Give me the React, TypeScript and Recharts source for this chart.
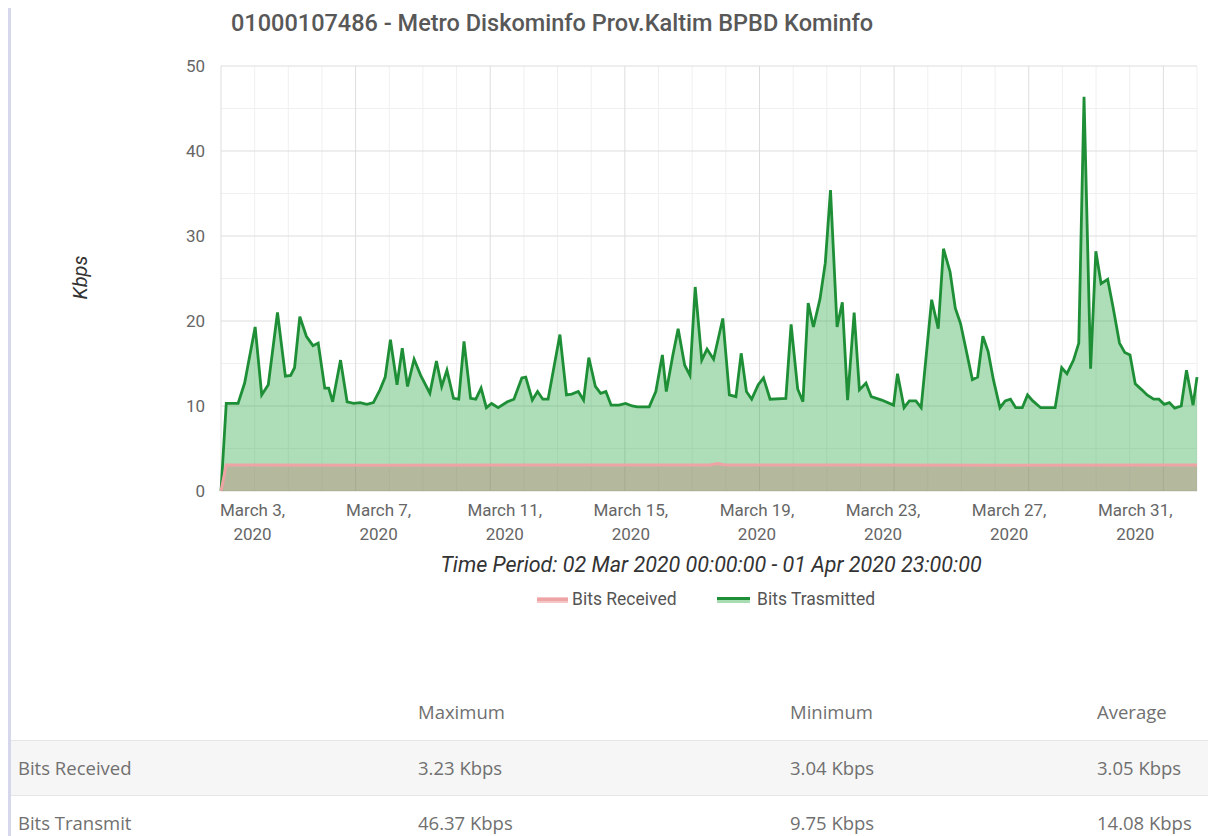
import { ComposedChart, Area, XAxis, YAxis, CartesianGrid, Label } from 'recharts'

// hours since 02 Mar 2020 00:00
const hours = [
  0, 4, 13, 18, 26, 31, 36, 43, 49, 53, 56, 60, 65, 70, 74, 79, 82, 85, 91, 96,
  101, 106, 111, 116, 121, 125, 129, 134, 138, 142, 147, 152, 159, 164, 168, 172, 177, 181, 185, 190,
  194, 198, 202, 206, 211, 218, 223, 229, 232, 237, 241, 245, 249, 258, 263, 267, 272, 276, 280, 285,
  289, 293, 297, 303, 308, 313, 317, 326, 331, 336, 339, 344, 348, 353, 357, 361, 366, 370, 375, 382,
  387, 392, 396, 400, 404, 409, 413, 418, 430, 434, 439, 443, 447, 451, 456, 460, 464, 469, 473, 477,
  482, 486, 491, 495, 503, 512, 515, 520, 524, 529, 533, 541, 546, 550, 555, 559, 563, 572, 576, 580,
  584, 588, 593, 597, 601, 605, 610, 614, 618, 624, 635, 640, 644, 649, 653, 657, 662, 666, 670, 675,
  679, 684, 688, 692, 696, 701, 705, 710, 714, 718, 722, 726, 731, 735, 740, 743,
]

const transmitted = [
  0, 10.3, 10.3, 12.7, 19.3, 11.3, 12.5, 21.0, 13.5, 13.6, 14.5, 20.5, 18.2, 17.1, 17.4, 12.1, 12.1, 10.5, 15.4, 10.5,
  10.3, 10.4, 10.2, 10.4, 11.9, 13.4, 17.8, 12.5, 16.8, 12.3, 15.5, 13.6, 11.5, 15.3, 12.3, 14.2, 10.9, 10.8, 17.6, 10.9,
  10.8, 12.1, 9.8, 10.3, 9.8, 10.5, 10.8, 13.3, 13.4, 10.7, 11.7, 10.8, 10.8, 18.4, 11.3, 11.4, 11.7, 10.7, 15.7, 12.3,
  11.5, 11.7, 10.1, 10.1, 10.3, 10.0, 9.9, 9.9, 11.7, 16.0, 11.7, 16.0, 19.1, 14.8, 13.6, 24.0, 15.4, 16.7, 15.5, 20.3,
  11.3, 11.1, 16.2, 11.7, 10.8, 12.5, 13.3, 10.8, 10.9, 19.6, 12.0, 10.5, 22.1, 19.3, 22.6, 26.8, 35.4, 19.3, 22.2, 10.7,
  21.0, 11.9, 12.7, 11.1, 10.7, 10.1, 13.8, 9.8, 10.6, 10.6, 9.8, 22.5, 19.1, 28.5, 25.8, 21.5, 19.7, 13.1, 13.4, 18.2,
  16.4, 13.1, 9.8, 10.6, 10.8, 9.8, 9.8, 11.3, 10.6, 9.8, 9.8, 14.5, 13.8, 15.4, 17.4, 46.37, 14.4, 28.2, 24.4, 24.9,
  21.7, 17.4, 16.3, 16.0, 12.6, 11.9, 11.3, 10.8, 10.8, 10.2, 10.4, 9.75, 10.0, 14.2, 10.1, 13.4,
]

const receivedHours = [0, 4, 120, 240, 360, 372, 378, 384, 480, 600, 720, 743]
const received = [0, 3.05, 3.04, 3.05, 3.05, 3.05, 3.23, 3.05, 3.05, 3.04, 3.05, 3.05]

const tickHours = [24, 120, 216, 312, 408, 504, 600, 696]
const tickDays = ['March 3,', 'March 7,', 'March 11,', 'March 15,', 'March 19,', 'March 23,', 'March 27,', 'March 31,']
const tickYear = '2020'
const yTicks = [0, 10, 20, 30, 40, 50]

const statHeaders = ['Maximum', 'Minimum', 'Average']
const statRows = [
  { name: 'Bits Received', values: ['3.23 Kbps', '3.04 Kbps', '3.05 Kbps'] },
  { name: 'Bits Transmit', values: ['46.37 Kbps', '9.75 Kbps', '14.08 Kbps'] },
]

const txData = hours.map((h, i) => ({ h, v: transmitted[i] }))
const rxData = receivedHours.map((h, i) => ({ h, v: received[i] }))

const font = 'Roboto, sans-serif'
const colX = [410, 782, 1089]

function DateTick({ x, y, payload }: any) {
  const i = tickHours.indexOf(payload.value)
  return (
    <text x={x} y={y} textAnchor="middle" fill="#666" fontSize={17} fontFamily={font}>
      <tspan x={x} dy={23}>{tickDays[i]}</tspan>
      <tspan x={x} dy={24}>{tickYear}</tspan>
    </text>
  )
}

function minorRows({ offset }: any) {
  const out: number[] = []
  for (let v = 5; v < 50; v += 10) out.push(offset.top + offset.height * (1 - v / 50))
  return out
}
function majorRows({ offset }: any) {
  return yTicks.map((v) => offset.top + offset.height * (1 - v / 50))
}
function minorCols({ offset }: any) {
  const out: number[] = []
  for (let i = 1; i <= 29; i++) if (i % 4 !== 0) out.push(offset.left + (offset.width * i) / 29)
  return out
}
function majorCols({ offset }: any) {
  const out: number[] = []
  for (let i = 0; i <= 29; i += 4) out.push(offset.left + (offset.width * i) / 29)
  return out
}

export default function App() {
  return (
    <div style={{ position: 'relative', width: 1200, height: 828, fontFamily: font }}>
      <div style={{ position: 'absolute', left: 0, top: -8, width: 3, height: 836, background: '#d6d6ec' }} />

      <div
        style={{
          position: 'absolute',
          left: 223,
          top: 1,
          fontSize: 23.5,
          lineHeight: '28px',
          fontWeight: 500,
          color: '#585858',
          whiteSpace: 'nowrap',
        }}
      >
        01000107486 - Metro Diskominfo Prov.Kaltim BPBD Kominfo
      </div>

      <div style={{ position: 'absolute', left: 0, top: 0 }}>
        <ComposedChart width={1200} height={560} margin={{ top: 58, right: 11, left: 0, bottom: 27 }}>
          <CartesianGrid
            stroke="#f0f0f0"
            horizontalCoordinatesGenerator={minorRows}
            verticalCoordinatesGenerator={minorCols}
          />
          <CartesianGrid
            stroke="#dddddd"
            horizontalCoordinatesGenerator={majorRows}
            verticalCoordinatesGenerator={majorCols}
          />
          <XAxis
            dataKey="h"
            type="number"
            domain={[0, 743]}
            ticks={tickHours}
            tick={<DateTick />}
            axisLine={false}
            tickLine={false}
            tickSize={0}
            height={50}
            allowDuplicatedCategory={false}
          />
          <YAxis
            type="number"
            domain={[0, 50]}
            ticks={yTicks}
            width={213}
            axisLine={false}
            tickLine={false}
            tickSize={0}
            tickMargin={16}
            tick={{ fill: '#666', fontSize: 17, fontFamily: font }}
          >
            <Label
              content={({ viewBox }: any) => {
                const cx = viewBox.x + 72
                const cy = viewBox.y + viewBox.height / 2 - 1
                return (
                  <text
                    x={cx}
                    y={cy}
                    transform={`rotate(-90, ${cx}, ${cy})`}
                    textAnchor="middle"
                    dominantBaseline="central"
                    fill="#333"
                    fontSize={20}
                    fontStyle="italic"
                    fontFamily={font}
                  >
                    Kbps
                  </text>
                )
              }}
            />
          </YAxis>
          <Area
            data={txData}
            dataKey="v"
            type="linear"
            stroke="#1e8f36"
            strokeWidth={2.8}
            fill="#28a745"
            fillOpacity={0.38}
            dot={false}
            activeDot={false}
            isAnimationActive={false}
          />
          <Area
            data={rxData}
            dataKey="v"
            type="linear"
            stroke="#eea4a4"
            strokeWidth={3}
            fill="#c86464"
            fillOpacity={0.3}
            dot={false}
            activeDot={false}
            isAnimationActive={false}
          />
        </ComposedChart>
      </div>

      <div
        style={{
          position: 'absolute',
          left: 303,
          top: 543,
          width: 800,
          textAlign: 'center',
          fontSize: 21.5,
          lineHeight: '28px',
          fontStyle: 'italic',
          color: '#333',
        }}
      >
        Time Period: 02 Mar 2020 00:00:00 - 01 Apr 2020 23:00:00
      </div>

      <svg width={31} height={10} style={{ position: 'absolute', left: 529, top: 587 }}>
        <rect x={0} y={2} width={31} height={6} fill="#f5c6c6" />
        <rect x={0} y={3} width={31} height={3} fill="#eea4a4" />
      </svg>
      <div style={{ position: 'absolute', left: 564, top: 579, fontSize: 17.5, lineHeight: '24px', color: '#555', whiteSpace: 'nowrap' }}>
        Bits Received
      </div>
      <svg width={33} height={10} style={{ position: 'absolute', left: 709, top: 587 }}>
        <rect x={0} y={2} width={33} height={6} fill="#a8dcb2" />
        <rect x={0} y={2} width={33} height={3} fill="#1e8f36" />
      </svg>
      <div style={{ position: 'absolute', left: 749, top: 579, fontSize: 17.5, lineHeight: '24px', color: '#555', whiteSpace: 'nowrap' }}>
        Bits Trasmitted
      </div>

      <div
        style={{
          position: 'absolute',
          left: 3,
          top: 0,
          width: 1197,
          height: 828,
          fontFamily: '"Open Sans", sans-serif',
          fontSize: 18.5,
          color: '#707070',
        }}
      >
        {statHeaders.map((h, i) => (
          <div key={h} style={{ position: 'absolute', left: colX[i] - 3, top: 691, lineHeight: '26px' }}>
            {h}
          </div>
        ))}
        {statRows.map((r, ri) => (
          <div
            key={r.name}
            style={{
              position: 'absolute',
              left: 0,
              top: 732 + ri * 55,
              width: 1197,
              height: 55,
              background: ri === 0 ? '#f6f6f6' : '#fff',
              borderTop: '1px solid #e6e6e6',
            }}
          >
            <div style={{ position: 'absolute', left: 7, top: 14, lineHeight: '26px' }}>{r.name}</div>
            {r.values.map((v, i) => (
              <div key={i} style={{ position: 'absolute', left: colX[i] - 3, top: 14, lineHeight: '26px' }}>
                {v}
              </div>
            ))}
          </div>
        ))}
      </div>
    </div>
  )
}
